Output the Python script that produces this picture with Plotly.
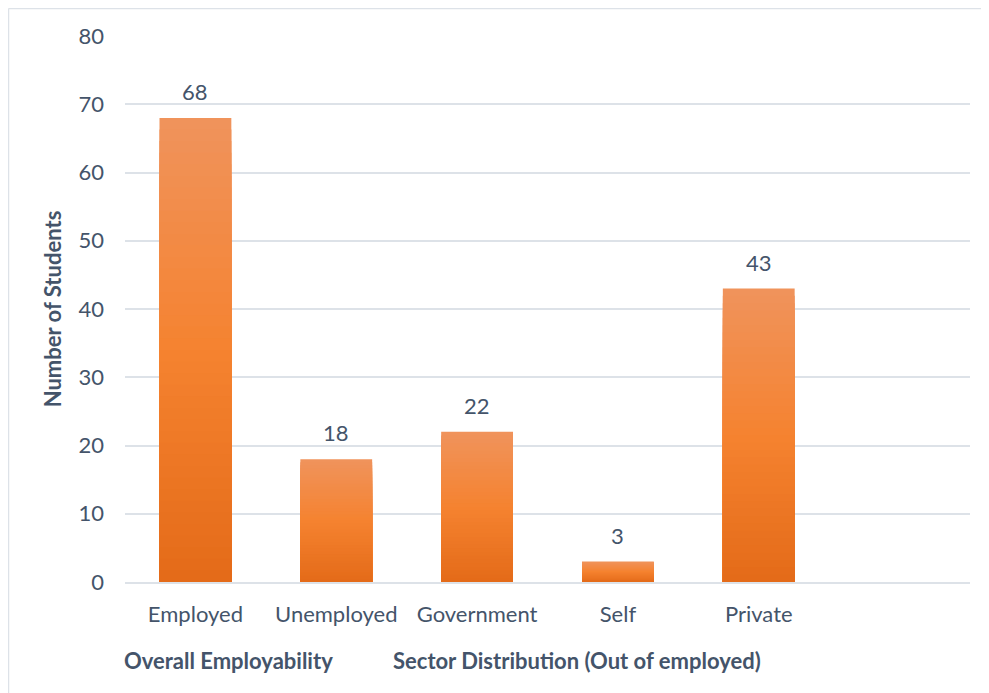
import plotly.graph_objects as go

categories = ["Employed", "Unemployed", "Government", "Self", "Private"]
students = [68, 18, 22, 3, 43]
group_labels = ["Overall Employability", "Sector Distribution (Out of employed)"]
y_ticks = [0, 10, 20, 30, 40, 50, 60, 70, 80]

FONT = "Lato, 'Open Sans', sans-serif"
TEXT = "#44546A"
FS = 22
GRID = "#DDE2E8"

# gradient stops (fraction of bar height -> colour): bottom dark, middle bright, top light
stops = [(0.0, (0xE3, 0x6A, 0x18)), (0.5, (0xF5, 0x82, 0x2F)), (1.0, (0xF0, 0x93, 0x5B))]

def grad(f):
    for (f0, c0), (f1, c1) in zip(stops[:-1], stops[1:]):
        if f0 <= f <= f1:
            t = (f - f0) / (f1 - f0)
            return "rgb(%d,%d,%d)" % tuple(round(a + (b - a) * t) for a, b in zip(c0, c1))
    return "rgb(%d,%d,%d)" % stops[-1][1]

x = list(range(len(categories)))
fig = go.Figure()
N = 40
for k in range(N):
    frac = (N - k) / N
    fig.add_trace(go.Bar(
        x=x, y=[v * frac for v in students],
        marker=dict(color=grad(frac), line=dict(width=0)),
        width=0.51,
        hoverinfo="skip" if k else None,
        showlegend=False,
    ))

# plot area: 845 x 546 px; figure sits 8px in from page corner
L, R, T, B = 117, 10, 28, 104
W, H = 981, 685
R = W - L - 845
B = H - T - 546
PW, PH = W - L - R, H - T - B

annotations = [
    dict(x=xi, y=v, xref="x", yref="y", text=str(v), showarrow=False,
         yanchor="bottom", yshift=11, font=dict(family=FONT, size=FS, color=TEXT))
    for xi, v in zip(x, students)
]
annotations += [
    dict(text="<b>%s</b>" % group_labels[0], x=0.122, y=-0.143, xref="paper", yref="paper",
         xanchor="center", yanchor="middle", showarrow=False,
         font=dict(family=FONT, size=FS, color=TEXT)),
    dict(text="<b>%s</b>" % group_labels[1], x=0.535, y=-0.143, xref="paper", yref="paper",
         xanchor="center", yanchor="middle", showarrow=False,
         font=dict(family=FONT, size=FS, color=TEXT)),
]

fig.update_layout(
    barmode="overlay",
    width=W, height=H,
    margin=dict(l=L, r=R, t=T, b=B),
    paper_bgcolor="white", plot_bgcolor="white",
    font=dict(family=FONT, size=FS, color=TEXT),
    xaxis=dict(
        range=[-0.5, 5.5], tickvals=x, ticktext=categories,
        showgrid=False, zeroline=False, showline=True, linecolor=GRID, linewidth=1.5,
        ticks="", ticklabelstandoff=12, tickfont=dict(family=FONT, size=FS, color=TEXT),
    ),
    yaxis=dict(
        range=[0, 80], tickvals=y_ticks, showgrid=True, gridcolor=GRID, gridwidth=1.5,
        zeroline=False, showline=False, ticks="", ticklabelstandoff=20,
        tickfont=dict(family=FONT, size=FS, color=TEXT),
        title=dict(text="<b>Number of Students</b>", font=dict(family=FONT, size=FS, color=TEXT), standoff=10),
    ),
    shapes=[
        # chart frame: only its top and left edges fall inside the picture
        dict(type="line", xref="paper", yref="paper",
             x0=-(L - 0.5) / PW, x1=1 + R / PW, y0=1 + (T - 0.5) / PH, y1=1 + (T - 0.5) / PH,
             line=dict(color=GRID, width=1.5), layer="below"),
        dict(type="line", xref="paper", yref="paper",
             x0=-(L - 0.5) / PW, x1=-(L - 0.5) / PW, y0=-B / PH, y1=1 + (T - 0.5) / PH,
             line=dict(color=GRID, width=1.5), layer="below"),
    ],
    annotations=annotations,
)

fig.write_html("out.html")
